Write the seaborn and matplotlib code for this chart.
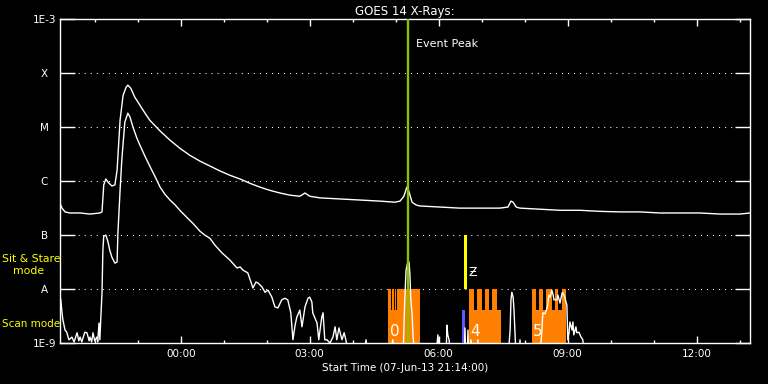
import numpy as np
import pandas as pd
import matplotlib
matplotlib.use("Agg")
import matplotlib.pyplot as plt
from matplotlib.ticker import FixedLocator
import seaborn as sns

# ---------------- data (hours relative to 08-Jun-13 00:00, log10 flux W/m^2) -------------
long_hours = [-2.81, -2.76, -2.69, -2.58, -2.34, -2.11, -1.88, -1.83, -1.79, -1.74, -1.69,
              -1.60, -1.53, -1.48, -1.41, -1.34, -1.27, -1.23, -1.16, -1.07, -0.95, -0.83,
              -0.72, -0.48, -0.25, -0.02, 0.21, 0.45, 0.68, 0.91, 1.14, 1.38, 1.61, 1.84,
              2.07, 2.31, 2.54, 2.77, 2.89, 3.00, 3.24, 3.70, 4.17, 4.63, 4.98, 5.10, 5.19,
              5.26, 5.31, 5.38, 5.47, 5.56, 6.03, 6.49, 6.96, 7.42, 7.61, 7.68, 7.73, 7.80,
              7.89, 8.35, 8.82, 9.28, 9.75, 10.21, 10.68, 11.14, 11.61, 12.07, 12.54, 13.00,
              13.24]
long_log = [-6.41, -6.50, -6.57, -6.59, -6.59, -6.61, -6.59, -6.57, -6.07, -5.96, -6.02,
            -6.09, -6.07, -5.80, -4.87, -4.41, -4.26, -4.22, -4.28, -4.44, -4.59, -4.74,
            -4.87, -5.07, -5.24, -5.39, -5.52, -5.63, -5.72, -5.81, -5.89, -5.96, -6.04,
            -6.11, -6.17, -6.22, -6.26, -6.28, -6.22, -6.28, -6.31, -6.33, -6.35, -6.37,
            -6.39, -6.37, -6.28, -6.11, -6.20, -6.39, -6.44, -6.46, -6.48, -6.50, -6.50,
            -6.50, -6.48, -6.37, -6.39, -6.48, -6.50, -6.52, -6.54, -6.54, -6.56, -6.57,
            -6.57, -6.59, -6.59, -6.59, -6.61, -6.61, -6.59]

short_hours = [-2.81, -2.79, -2.76, -2.74, -2.69, -2.65, -2.60, -2.53, -2.48, -2.41, -2.37,
               -2.34, -2.30, -2.23, -2.18, -2.13, -2.11, -2.07, -2.04, -2.00, -1.95, -1.93,
               -1.90, -1.88, -1.86, -1.83, -1.81, -1.79, -1.74, -1.69, -1.65, -1.60, -1.53,
               -1.48, -1.46, -1.41, -1.37, -1.30, -1.23, -1.18, -1.11, -1.02, -0.95, -0.83,
               -0.72, -0.60, -0.48, -0.37, -0.25, -0.13, -0.02, 0.14, 0.28, 0.45, 0.56,
               0.68, 0.80, 0.96, 1.14, 1.31, 1.38, 1.45, 1.56, 1.66, 1.68, 1.75, 1.80, 1.89,
               1.96, 2.03, 2.12, 2.19, 2.26, 2.35, 2.42, 2.49, 2.56, 2.61, 2.66, 2.70, 2.77,
               2.82, 2.89, 2.96, 3.00, 3.05, 3.07, 3.17, 3.21, 3.28, 3.31, 3.35, 3.40, 3.47,
               3.54, 3.59, 3.63, 3.68, 3.75, 3.80, 3.84, 3.93, 4.24, 4.31, 4.35, 4.87, 4.93,
               4.98, 5.17, 5.19, 5.21, 5.24, 5.28, 5.31, 5.33, 5.35, 5.38, 5.40, 5.45, 5.93,
               5.98, 6.03, 6.17, 6.19, 6.21, 6.24, 6.28, 6.59, 6.61, 6.63, 6.66, 6.68, 6.70,
               6.75, 6.80, 6.89, 6.91, 6.93, 7.61, 7.66, 7.68, 7.70, 7.73, 7.75, 7.77, 7.80,
               7.87, 7.89, 7.91, 8.35, 8.40, 8.42, 8.47, 8.52, 8.54, 8.56, 8.59, 8.63, 8.66,
               8.68, 8.73, 8.75, 8.77, 8.82, 8.87, 8.89, 8.93, 8.98, 9.00, 9.03, 9.05, 9.10,
               9.12, 9.14, 9.19, 9.21, 9.26, 9.31, 9.35, 9.40, 13.24]
short_log = [-8.15, -8.19, -8.44, -8.57, -8.76, -8.80, -8.94, -8.89, -8.98, -8.81, -8.96,
             -8.89, -8.98, -8.80, -8.81, -8.96, -8.89, -8.98, -8.81, -8.96, -8.89, -8.98,
             -8.63, -8.94, -8.57, -8.07, -7.28, -7.02, -7.00, -7.13, -7.28, -7.41, -7.52,
             -7.50, -6.96, -6.17, -5.61, -4.91, -4.74, -4.81, -5.00, -5.20, -5.33, -5.54,
             -5.72, -5.91, -6.11, -6.24, -6.35, -6.44, -6.54, -6.67, -6.78, -6.93, -7.00,
             -7.06, -7.19, -7.33, -7.46, -7.61, -7.59, -7.65, -7.70, -7.93, -7.98, -7.87,
             -7.89, -7.96, -8.06, -8.02, -8.15, -8.33, -8.35, -8.20, -8.17, -8.20, -8.44,
             -8.94, -8.67, -8.52, -8.39, -8.70, -8.33, -8.17, -8.15, -8.24, -8.44, -8.63,
             -8.94, -8.52, -8.44, -8.94, -8.94, -9.00, -8.89, -8.70, -8.94, -8.72, -8.94,
             -8.81, -8.94, -9.30, -9.30, -8.94, -9.30, -9.30, -8.94, -9.30, -9.30, -8.76,
             -8.20, -7.65, -7.50, -7.50, -7.74, -8.20, -8.44, -8.85, -9.30, -9.30, -8.85,
             -9.30, -9.30, -8.67, -8.85, -8.94, -9.30, -9.30, -8.72, -9.30, -9.30, -8.76,
             -9.30, -8.94, -9.30, -9.30, -8.94, -9.30, -9.30, -8.76, -8.20, -8.06, -8.15,
             -8.39, -8.76, -9.30, -9.30, -8.94, -9.30, -9.30, -8.76, -8.44, -8.46, -8.35,
             -8.26, -8.11, -8.15, -8.02, -8.11, -8.20, -8.20, -8.20, -8.11, -8.26, -8.07,
             -8.07, -8.15, -8.30, -8.94, -8.81, -8.61, -8.76, -8.61, -8.85, -8.70, -8.81,
             -8.80, -8.89, -8.94, -9.30, -9.30]

scan_start = [4.82, 6.70, 8.17]
scan_end = [5.56, 7.44, 8.97]
scan_labels = ["0", "4", "5"]
scan_label_x = [4.87, 6.73, 8.19]
notch_start = [4.893, 4.958, 5.012, 6.81, 7.00, 7.17, 7.35, 8.26, 8.43, 8.63, 8.78]
notch_end = [4.916, 4.981, 5.035, 6.88, 7.08, 7.24, 7.44, 8.33, 8.49, 8.70, 8.86]
stare_span = [6.586, 6.656]
blue_span = [6.54, 6.61]
event_peak = 5.28

tick_hours = [0, 3, 6, 9, 12]
tick_labels = ["00:00", "03:00", "06:00", "09:00", "12:00"]
minor_hours = list(range(-2, 14))
y_levels = [1e-9, 1e-8, 1e-7, 1e-6, 1e-5, 1e-4, 1e-3]
y_labels = ["1E-9", "A", "B", "C", "M", "X", "1E-3"]

# ---------------- figure ----------------
sns.set_style("dark")
plt.rcParams["font.family"] = ["DejaVu Sans"]

fig = plt.figure(figsize=(7.68, 3.84), dpi=100, facecolor="black")
ax = fig.add_axes([60.3 / 768, 1 - 343 / 384, 690 / 768, (343 - 19.3) / 384])
ax.set_facecolor("black")
ax.set_yscale("log")
ax.set_xlim(-2.80, 13.245)
ax.set_ylim(1e-9, 1e-3)

# gridlines
for lv in y_levels[1:-1]:
    ax.axhline(lv, color="white", lw=0.75, ls=(0, (1, 4.8)), zorder=1)

# scan mode regions
ax.bar(scan_start, [1e-8 - 1e-9] * 3, width=np.array(scan_end) - np.array(scan_start),
       bottom=1e-9, align="edge", color="#ff8000", linewidth=0, zorder=2)
ax.bar(notch_start, [1e-8 - 10 ** -8.39] * len(notch_start),
       width=np.array(notch_end) - np.array(notch_start),
       bottom=10 ** -8.39, align="edge", color="black", linewidth=0, zorder=2.1)
for lx, lab in zip(scan_label_x, scan_labels):
    ax.text(lx, 10 ** -8.78, lab, color="white", fontsize=11, va="center", ha="left",
            zorder=5)

# sit & stare / blue marker
ax.bar([stare_span[0]], [1e-7 - 1e-8], width=stare_span[1] - stare_span[0], bottom=1e-8,
       align="edge", color="#ffff00", linewidth=0, zorder=3)
ax.bar([blue_span[0]], [10 ** -8.39 - 1e-9], width=blue_span[1] - blue_span[0], bottom=1e-9,
       align="edge", color="#5a5aff", linewidth=0, zorder=3)
ax.text(6.70, 10 ** -7.69, "Ƶ", color="white", fontsize=9, va="center", ha="left", zorder=5)

# curves
df_long = pd.DataFrame({"hours": long_hours, "flux": np.power(10.0, long_log)})
df_short = pd.DataFrame({"hours": short_hours, "flux": np.power(10.0, short_log)})
sns.lineplot(data=df_long, x="hours", y="flux", ax=ax, color="white", lw=1.0,
             estimator=None, sort=False, zorder=4)
sns.lineplot(data=df_short, x="hours", y="flux", ax=ax, color="white", lw=1.0,
             estimator=None, sort=False, zorder=4)

# event peak
ax.axvline(event_peak, color="#8cc000", lw=1.7, zorder=6)
ax.text(5.47, 10 ** -3.46, "Event Peak", color="white", fontsize=8, va="center", ha="left")

# axes styling
for s in ax.spines.values():
    s.set_color("white")
    s.set_linewidth(1.0)
ax.grid(False)
ax.xaxis.set_major_locator(FixedLocator(tick_hours))
ax.xaxis.set_minor_locator(FixedLocator(minor_hours))
ax.set_xticks(tick_hours)
ax.set_xticklabels(tick_labels)
ax.set_yticks(y_levels)
ax.set_yticklabels(y_labels)
ax.yaxis.set_minor_locator(FixedLocator([]))
ax.tick_params(axis="x", which="major", direction="in", length=5, width=1, color="white",
               top=True, bottom=True, labelcolor="white", labelsize=7.5, pad=4)
ax.tick_params(axis="x", which="minor", direction="in", length=2.5, width=1, color="white",
               top=True, bottom=True)
ax.tick_params(axis="y", which="major", direction="in", length=10.5, width=1, color="white",
               left=True, right=True, labelcolor="white", labelsize=7.5, pad=11.5)
for lab in ax.get_yticklabels():
    lab.set_horizontalalignment("center")
ax.set_xlabel("Start Time (07-Jun-13 21:14:00)", color="white", fontsize=7.5, labelpad=3)
ax.set_ylabel("")
ax.set_title("GOES 14 X-Rays:", color="white", fontsize=8.5, pad=3)

fig.text(2 / 768, 1 - 259 / 384, "Sit & Stare", color="#ffff00", fontsize=7.8,
         va="center", ha="left")
fig.text(13 / 768, 1 - 271 / 384, "mode", color="#ffff00", fontsize=7.8,
         va="center", ha="left")
fig.text(2 / 768, 1 - 324 / 384, "Scan mode", color="#ffff00", fontsize=7.5,
         va="center", ha="left")

fig.savefig("out.png", dpi=100, facecolor="black")
